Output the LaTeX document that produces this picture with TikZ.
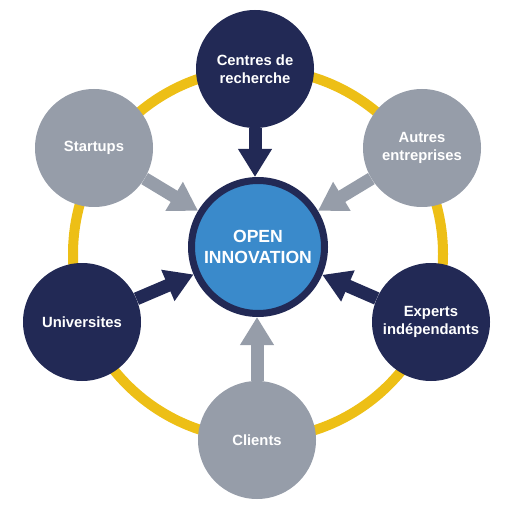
\documentclass[tikz,border=0pt]{standalone}
\usepackage{fontspec}
\setmainfont{Liberation Sans}
\usetikzlibrary{arrows.meta}

\definecolor{navy}{HTML}{222955}
\definecolor{slate}{HTML}{969DA9}
\definecolor{gold}{HTML}{EDBF16}
\definecolor{ocean}{HTML}{3A8ACB}

\begin{document}
\begin{tikzpicture}[x=1pt,y=-1pt,
    font=\bfseries\fontsize{14.8}{18}\selectfont,
    outer node/.style={circle,minimum size=118pt,inner sep=0pt,align=center,text=white},
    dark node/.style={outer node,fill=navy}, light node/.style={outer node,fill=slate},
    core node/.style={circle,fill=ocean,draw=navy,line width=7pt,minimum size=133pt,
      align=center,text=white,font=\bfseries\fontsize{17.6}{21}\selectfont},
    link/.style={line width=13pt,-{Triangle[width=32pt,length=28pt]}}]

  \useasboundingbox (0,0) rectangle (510,510);

  \draw[gold,line width=10pt] (258,254) circle (185pt);

  \node[dark node] (centres) at (255,69) {Centres de\\recherche};
  \node[light node] (autres) at (422,148) {Autres\\entreprises};
  \node[dark node] (experts) at (431,322) {Experts\\indépendants};
  \node[light node] (clients) at (257,440) {Clients};
  \node[dark node] (univ) at (82,322) {Universites};
  \node[light node] (startups) at (94,148) {Startups};

  \node[core node] (core) at (258,247) {OPEN\\INNOVATION};

  \path[link]
        (centres) edge[navy] (centres |- core.north)
        (autres) edge[slate] (core)
        (experts) edge[navy] (core)
        (clients) edge[slate] (clients |- core.south)
        (univ) edge[navy] (core)
        (startups) edge[slate] (core)
;
\end{tikzpicture}
\end{document}
